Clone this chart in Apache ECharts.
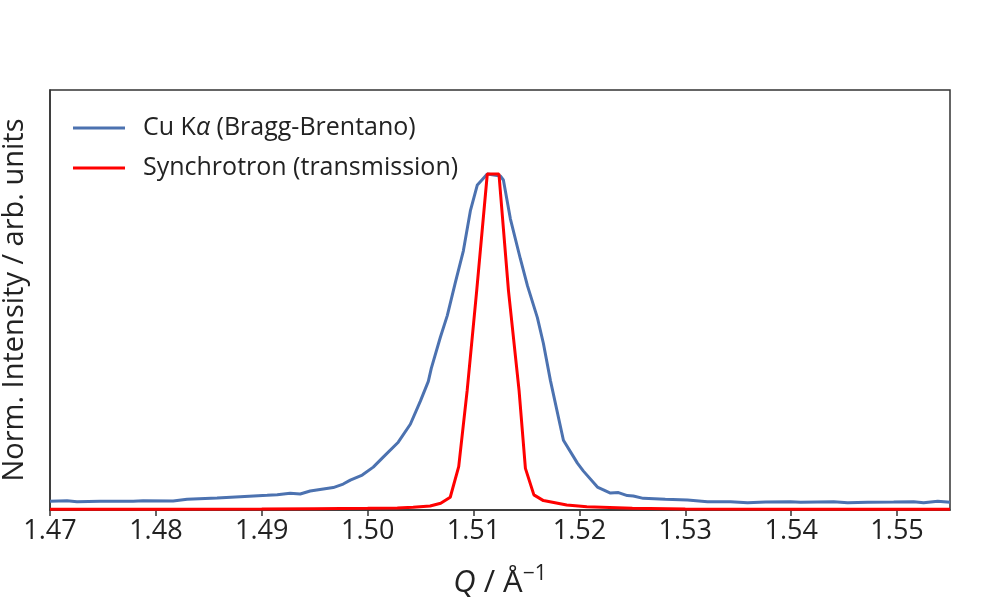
<!DOCTYPE html>
<html>
<head>
<meta charset="utf-8">
<script src="https://cdn.jsdelivr.net/npm/echarts@6/dist/echarts.min.js"></script>
<style>html,body{margin:0;padding:0;background:#fff}#c{width:1000px;height:600px}</style>
</head>
<body>
<div id="c"></div>
<script>
// Cu Kα (Bragg-Brentano): Q values and normalised intensities
const cuQ = [1.47000,1.47161,1.47255,1.47473,1.47785,1.47879,1.48163,1.48295,1.48578,1.48796,1.49051,1.49146,1.49268,1.49363,1.49457,1.49675,1.49769,1.49836,1.49949,1.50053,1.50147,1.50289,1.50403,1.50497,1.50573,1.50601,1.50686,1.50752,1.50828,1.50904,1.50970,1.51036,1.51130,1.51253,1.51282,1.51348,1.51442,1.51509,1.51603,1.51660,1.51726,1.51849,1.51981,1.52038,1.52170,1.52293,1.52369,1.52452,1.52509,1.52603,1.52811,1.53021,1.53210,1.53427,1.53588,1.53758,1.53994,1.54089,1.54401,1.54533,1.54722,1.54968,1.55157,1.55251,1.55384,1.55500];
const cuI = [0.0258,0.0276,0.0246,0.0258,0.0258,0.0276,0.0267,0.0318,0.0356,0.0395,0.0436,0.0454,0.0496,0.0475,0.0564,0.0668,0.0772,0.0890,0.1039,0.1276,0.1573,0.2018,0.2552,0.3234,0.3828,0.4214,0.5134,0.5786,0.6766,0.7715,0.8902,0.9674,1.0000,0.9941,0.9822,0.8665,0.7478,0.6677,0.5727,0.4955,0.3858,0.2077,0.1395,0.1157,0.0682,0.0504,0.0519,0.0430,0.0415,0.0347,0.0318,0.0297,0.0246,0.0246,0.0217,0.0237,0.0246,0.0228,0.0246,0.0217,0.0228,0.0237,0.0246,0.0217,0.0258,0.0228];
// Synchrotron (transmission)
const synQ = [1.470,1.480,1.490,1.495,1.500,1.5028,1.5043,1.5059,1.5069,1.5078,1.5086,1.5094,1.5103,1.5113,1.5124,1.5133,1.5143,1.5149,1.5157,1.5166,1.5188,1.5207,1.525,1.530,1.540,1.555];
const synI = [0.002,0.002,0.003,0.004,0.005,0.006,0.008,0.012,0.020,0.038,0.129,0.356,0.653,1.000,1.000,0.653,0.356,0.124,0.045,0.028,0.015,0.010,0.005,0.003,0.002,0.002];
const xTicks = [1.47,1.48,1.49,1.50,1.51,1.52,1.53,1.54,1.55];
const seriesNames = ['Cu Kα (Bragg-Brentano)','Synchrotron (transmission)'];

const FONT = '"Open Sans", "DejaVu Sans", sans-serif';
const chart = echarts.init(document.getElementById('c'), null, {renderer:'canvas'});
const zip = (a,b) => a.map((v,i)=>[v,b[i]]);
chart.setOption({
  animation:false,
  backgroundColor:'#fff',
  grid:{left:50,right:50,top:90,bottom:90,containLabel:false,outerBoundsMode:'none',
    show:true,borderColor:'#333',borderWidth:1.5,backgroundColor:'transparent'},
  legend:{
    orient:'vertical', left:68, top:108, itemGap:10,
    icon:'rect', itemWidth:52, itemHeight:3,
    textStyle:{fontFamily:FONT,fontSize:25,color:'#222',lineHeight:30,padding:[0,0,0,13],
      rich:{i:{fontFamily:FONT,fontSize:25,fontStyle:'italic',color:'#222'}}},
    formatter:function(n){return n.replace('α','{i|α}');},
    data:seriesNames
  },
  xAxis:{
    type:'value', min:1.47, max:1.555,
    name:'{i|Q} / Å{sup|−1}', nameLocation:'middle', nameGap:54,
    nameTextStyle:{fontFamily:FONT,fontSize:31,color:'#222',
      rich:{i:{fontFamily:FONT,fontSize:31,fontStyle:'italic',color:'#222'},
            sup:{fontFamily:FONT,fontSize:21,color:'#222',padding:[0,0,17,0]}}},
    axisLine:{show:true,lineStyle:{color:'#333',width:1.5}},
    axisTick:{show:true,length:6,lineStyle:{color:'#333',width:1.5},customValues:xTicks},
    axisLabel:{fontFamily:FONT,fontSize:27,color:'#222',margin:8,customValues:xTicks,
      formatter:v=>v.toFixed(2)},
    splitLine:{show:false}
  },
  yAxis:{
    type:'value', min:0, max:1.25,
    name:'Norm. Intensity / arb. units', nameLocation:'middle', nameGap:21,
    nameTextStyle:{fontFamily:FONT,fontSize:29,color:'#222'},
    axisLine:{show:true,lineStyle:{color:'#333',width:1.5}},
    axisTick:{show:false}, axisLabel:{show:false}, splitLine:{show:false}
  },
  series:[
    {name:seriesNames[0],type:'line',data:zip(cuQ,cuI),symbol:'none',
     lineStyle:{color:'#4c72b0',width:3},itemStyle:{color:'#4c72b0'}},
    {name:seriesNames[1],type:'line',data:zip(synQ,synI),symbol:'none',
     lineStyle:{color:'#ff0000',width:3},itemStyle:{color:'#ff0000'}}
  ]
});
</script>
</body>
</html>
